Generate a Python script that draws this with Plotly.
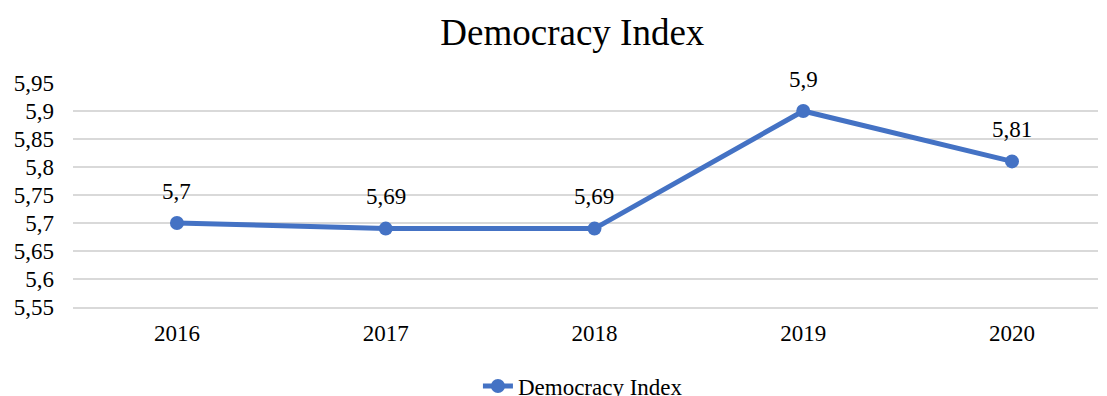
import plotly.graph_objects as go

years = [2016, 2017, 2018, 2019, 2020]
year_labels = ["2016", "2017", "2018", "2019", "2020"]
values = [5.70, 5.69, 5.69, 5.90, 5.81]
y_ticks = [5.55, 5.60, 5.65, 5.70, 5.75, 5.80, 5.85, 5.90, 5.95]

def fmt(v):
    s = ("%.2f" % v).rstrip("0").rstrip(".")
    return s.replace(".", ",")

y_tick_text = [fmt(v) for v in y_ticks]
labels = [fmt(v) for v in values]

COLOR = "#4472C4"
FONT = "Liberation Serif, Times New Roman, serif"

fig = go.Figure()
fig.add_trace(go.Scatter(
    x=years, y=values, mode="lines+markers", name="Democracy Index",
    line=dict(color=COLOR, width=5),
    marker=dict(color=COLOR, size=14),
))

for x, y, t in zip(years, values, labels):
    fig.add_annotation(x=x, y=y, text=t, showarrow=False, yshift=32,
                       font=dict(family=FONT, size=23, color="#000000"))

fig.update_layout(
    width=1107, height=396,
    margin=dict(l=73, r=9, t=83, b=89, autoexpand=False),
    paper_bgcolor="white", plot_bgcolor="white",
    font=dict(family=FONT, size=23, color="#000000"),
    title=dict(text="Democracy Index", x=0.517, xanchor="center", y=0.92, yanchor="middle",
               font=dict(family=FONT, size=37, color="#000000")),
    showlegend=True,
    legend=dict(orientation="h", x=0.4975, xanchor="center", yref="container", y=0.025,
                yanchor="middle", font=dict(family=FONT, size=23, color="#000000")),
)
fig.update_xaxes(range=[2015.502, 2020.412], tickvals=years, ticktext=year_labels,
                 showgrid=False, showline=True, linecolor="#D9D9D9", zeroline=False,
                 linewidth=2, ticks="", tickfont=dict(size=23), ticklabelstandoff=4,
                 automargin=False)
fig.update_yaxes(range=[5.55, 5.95], tickvals=y_ticks, ticktext=y_tick_text,
                 showgrid=True, gridcolor="#D9D9D9", gridwidth=2, zeroline=False,
                 showline=False, ticks="", tickfont=dict(size=23), ticklabelstandoff=18,
                 automargin=False)

fig.write_html("out.html")
